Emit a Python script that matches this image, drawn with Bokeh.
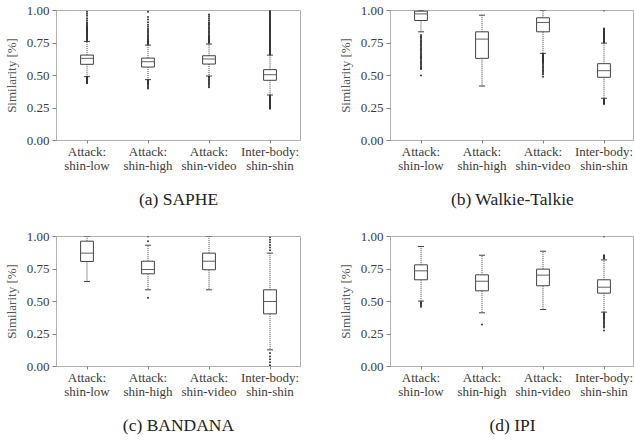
from bokeh.plotting import figure
from bokeh.models import Range1d, FixedTicker, Title, NumeralTickFormatter
from bokeh.layouts import gridplot
from bokeh.embed import file_html
from bokeh.resources import INLINE

positions = [1, 2, 3, 4]
categories = ["Attack:\nshin-low", "Attack:\nshin-high", "Attack:\nshin-video", "Inter-body:\nshin-shin"]
y_ticks = [0.0, 0.25, 0.5, 0.75, 1.0]

# ---- (a) SAPHE ----
a_q1 = [0.586, 0.565, 0.588, 0.463]
a_med = [0.632, 0.606, 0.627, 0.506]
a_q3 = [0.657, 0.634, 0.652, 0.545]
a_lo = [0.491, 0.468, 0.496, 0.350]
a_hi = [0.762, 0.734, 0.742, 0.657]
a_fliers = [
    [0.77, 0.775, 0.78, 0.786, 0.79, 0.795, 0.80, 0.806, 0.81, 0.815, 0.82, 0.826, 0.83, 0.836, 0.84,
     0.846, 0.85, 0.855, 0.86, 0.866, 0.87, 0.876, 0.88, 0.89, 0.90, 0.91, 0.925, 0.94, 0.96, 0.975, 0.99,
     0.488, 0.484, 0.48, 0.475, 0.47, 0.466, 0.46, 0.455, 0.45, 0.445, 0.44],
    [0.74, 0.745, 0.75, 0.756, 0.76, 0.766, 0.77, 0.776, 0.78, 0.79, 0.80, 0.81, 0.82, 0.83, 0.84, 0.85,
     0.86, 0.875, 0.89, 0.91, 0.93, 0.95, 0.99,
     0.465, 0.46, 0.455, 0.45, 0.445, 0.44, 0.435, 0.43, 0.42, 0.41, 0.40],
    [0.75, 0.755, 0.76, 0.766, 0.77, 0.776, 0.78, 0.786, 0.79, 0.795, 0.80, 0.81, 0.82, 0.83, 0.84, 0.85,
     0.86, 0.87, 0.88, 0.89, 0.90, 0.91, 0.925, 0.94, 0.955, 0.97,
     0.49, 0.485, 0.48, 0.47, 0.46, 0.45, 0.44, 0.43, 0.42, 0.41],
    [0.662, 0.668, 0.674, 0.68, 0.686, 0.692, 0.698, 0.704, 0.71, 0.716, 0.722, 0.728, 0.734, 0.74, 0.746,
     0.752, 0.758, 0.764, 0.77, 0.776, 0.782, 0.788, 0.794, 0.80, 0.806, 0.812, 0.818, 0.824, 0.83, 0.836,
     0.842, 0.848, 0.854, 0.86, 0.866, 0.872, 0.878, 0.884, 0.89, 0.896, 0.902, 0.908, 0.914, 0.92, 0.926,
     0.932, 0.938, 0.944, 0.95, 0.956, 0.962, 0.968, 0.974, 0.98, 0.986, 0.992, 0.998,
     0.345, 0.34, 0.335, 0.33, 0.325, 0.32, 0.315, 0.31, 0.305, 0.30, 0.295, 0.29, 0.285, 0.28, 0.275,
     0.27, 0.265, 0.26, 0.255, 0.25, 0.245],
]

# ---- (b) Walkie-Talkie ----
b_q1 = [0.923, 0.632, 0.836, 0.486]
b_med = [0.974, 0.780, 0.908, 0.537]
b_q3 = [0.995, 0.836, 0.944, 0.591]
b_lo = [0.836, 0.419, 0.670, 0.325]
b_hi = [1.0, 0.964, 1.0, 0.749]
b_fliers = [
    [0.812, 0.80, 0.79, 0.78, 0.77, 0.76, 0.75, 0.74, 0.73, 0.72, 0.71, 0.70, 0.69, 0.68, 0.67, 0.66, 0.65,
     0.645, 0.64, 0.635, 0.63, 0.62, 0.61, 0.60, 0.59, 0.58, 0.57, 0.56, 0.555, 0.55, 0.50],
    [],
    [0.665, 0.66, 0.655, 0.65, 0.645, 0.64, 0.635, 0.63, 0.625, 0.62, 0.615, 0.61, 0.605, 0.60, 0.59,
     0.58, 0.57, 0.56, 0.55, 0.54, 0.53, 0.52, 0.51, 0.49],
    [0.755, 0.76, 0.765, 0.77, 0.775, 0.78, 0.785, 0.79, 0.795, 0.80, 0.805, 0.81, 0.815, 0.82, 0.825,
     0.83, 0.835, 0.84, 0.845, 0.85, 0.855, 0.862, 1.0,
     0.32, 0.315, 0.31, 0.305, 0.30, 0.295, 0.29, 0.285, 0.281],
]

# ---- (c) BANDANA ----
c_q1 = [0.808, 0.713, 0.744, 0.405]
c_med = [0.872, 0.746, 0.810, 0.500]
c_q3 = [0.964, 0.810, 0.872, 0.590]
c_lo = [0.654, 0.590, 0.590, 0.128]
c_hi = [1.0, 0.933, 1.0, 0.872]
c_fliers = [
    [],
    [0.964, 1.0, 0.528],
    [],
    [0.895, 0.915, 0.935, 0.955, 0.975, 0.995, 0.103, 0.077, 0.056, 0.033, 0.01],
]

# ---- (d) IPI ----
d_q1 = [0.667, 0.582, 0.621, 0.564]
d_med = [0.736, 0.656, 0.703, 0.610]
d_q3 = [0.782, 0.705, 0.749, 0.667]
d_lo = [0.503, 0.413, 0.438, 0.418]
d_hi = [0.923, 0.856, 0.887, 0.820]
d_fliers = [
    [0.495, 0.49, 0.485, 0.48, 0.47, 0.46],
    [0.323],
    [],
    [0.83, 0.835, 0.84, 0.845, 0.85, 0.855, 1.0,
     0.41, 0.405, 0.40, 0.395, 0.39, 0.385, 0.38, 0.375, 0.37, 0.36, 0.35, 0.34, 0.33, 0.32, 0.31,
     0.30, 0.277],
]

BOX_W = 0.21
CAP_W = 0.10
FONT = "Liberation Serif"
LINE = "#404040"


def make_panel(caption, q1, med, q3, lo, hi, fliers, width, left, right, height, bottom):
    p = figure(width=width, height=height, x_range=Range1d(0.5, 4.5), y_range=Range1d(0, 1),
               output_backend="svg", toolbar_location=None,
               min_border_left=left, min_border_right=right, min_border_top=10,
               min_border_bottom=bottom, background_fill_color="white", border_fill_color="white")
    p.xgrid.visible = False
    p.ygrid.visible = False
    p.outline_line_color = "#b0b0b0"
    p.outline_line_width = 1

    xl = [x - BOX_W / 2 for x in positions]
    xr = [x + BOX_W / 2 for x in positions]
    cl = [x - CAP_W / 2 for x in positions]
    cr = [x + CAP_W / 2 for x in positions]

    # whiskers (dotted)
    p.segment(positions, q3, positions, hi, line_color=LINE, line_width=1, line_dash="1 1")
    p.segment(positions, q1, positions, lo, line_color=LINE, line_width=1, line_dash="1 1")
    # caps
    p.segment(cl, hi, cr, hi, line_color=LINE, line_width=1)
    p.segment(cl, lo, cr, lo, line_color=LINE, line_width=1)
    # boxes
    p.quad(left=xl, right=xr, bottom=q1, top=q3, fill_color="white", line_color=LINE, line_width=1)
    # medians
    p.segment(xl, med, xr, med, line_color="#606060", line_width=1)
    # fliers
    fx, fy = [], []
    for x, fl in zip(positions, fliers):
        fx += [x] * len(fl)
        fy += fl
    p.scatter(fx, fy, size=2.0, marker="circle", fill_color="#333333", line_color=None)

    # axes
    p.xaxis.ticker = FixedTicker(ticks=positions)
    p.xaxis.major_label_overrides = {x: c for x, c in zip(positions, categories)}
    p.yaxis.ticker = FixedTicker(ticks=y_ticks)
    p.yaxis.formatter = NumeralTickFormatter(format="0.00")
    for ax in (p.xaxis[0], p.yaxis[0]):
        ax.axis_line_color = "#b0b0b0"
        ax.major_tick_line_color = "#808080"
        ax.major_tick_out = 4
        ax.major_tick_in = 0
        ax.minor_tick_line_color = None
        ax.major_label_text_font = FONT
        ax.major_label_text_font_size = "13px"
        ax.major_label_text_color = "#3a3a3a"
        ax.major_label_standoff = 3
    p.xaxis.major_tick_out = 3
    p.xaxis.major_label_standoff = 0
    p.xaxis.major_label_text_line_height = 0.95
    p.yaxis.axis_label = "Similarity [%]"
    p.yaxis.axis_label_text_font = FONT
    p.yaxis.axis_label_text_font_size = "13px"
    p.yaxis.axis_label_text_font_style = "normal"
    p.yaxis.axis_label_text_color = "#555555"
    p.yaxis.axis_label_standoff = 5

    t = Title(text=caption, align="center", text_font=FONT, text_font_size="17.5px",
              text_font_style="normal", text_color="#222222", standoff=22)
    p.add_layout(t, "below")
    return p


pa = make_panel("(a) SAPHE", a_q1, a_med, a_q3, a_lo, a_hi, a_fliers, 334, 52, 34, 226, 86)
pb = make_panel("(b) Walkie-Talkie", b_q1, b_med, b_q3, b_lo, b_hi, b_fliers, 300, 52, 0, 226, 86)
pc = make_panel("(c) BANDANA", c_q1, c_med, c_q3, c_lo, c_hi, c_fliers, 334, 52, 34, 219, 79)
pd = make_panel("(d) IPI", d_q1, d_med, d_q3, d_lo, d_hi, d_fliers, 300, 52, 0, 219, 79)

grid = gridplot([[pa, pb], [pc, pd]], toolbar_location=None)
open("out.html", "w").write(file_html(grid, INLINE))
